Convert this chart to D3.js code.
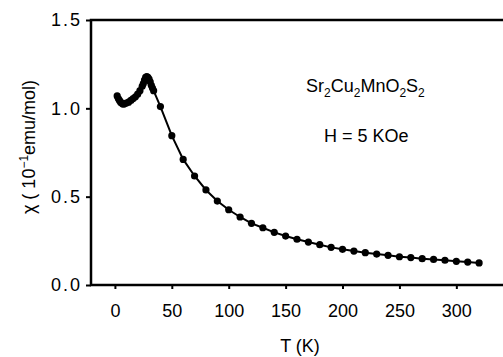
<!DOCTYPE html>
<html lang="en">
<head>
  <meta charset="UTF-8">
  <title>Sr2Cu2MnO2S2 susceptibility</title>
  <style>
    body {
      margin: 0;
      background: #fff;
      font-family: 'Liberation Sans', Arial, sans-serif;
    }
  </style>
  <script src="https://d3js.org/d3.v7.min.js"></script>
</head>
<body>
  <div id="chart"></div>

  <script>
    // T (K)
    const temps = [2, 3, 4, 5, 6, 7, 8, 10, 12, 14, 16, 18, 20, 22, 24, 25, 26, 27, 28, 29, 30, 31, 32, 33, 34,
      40, 50, 60, 70, 80, 90, 100, 110, 120, 130, 140, 150, 160, 170, 180, 190, 200,
      210, 220, 230, 240, 250, 260, 270, 280, 290, 300, 310, 320];
    // chi (10^-1 emu/mol)
    const chi = [1.07, 1.055, 1.045, 1.035, 1.03, 1.025, 1.025, 1.03, 1.035, 1.045, 1.055, 1.065, 1.08, 1.10, 1.125, 1.14, 1.16, 1.175, 1.18, 1.175, 1.165, 1.15, 1.13, 1.115, 1.10,
      1.01, 0.845, 0.711, 0.617, 0.538, 0.475, 0.426, 0.385, 0.349, 0.324, 0.298, 0.277, 0.259, 0.243, 0.228, 0.213, 0.202,
      0.192, 0.183, 0.175, 0.168, 0.160, 0.155, 0.149, 0.145, 0.140, 0.134, 0.130, 0.125];
    const xTicks = [0, 50, 100, 150, 200, 250, 300];
    const yTicks = [0.0, 0.5, 1.0, 1.5];

    const data = temps.map((t, i) => ({ t: t, v: chi[i] }));

    const width = 503;
    const height = 357;
    const mLeft = 91, mTop = 20, mBottom = 285;

    const svg = d3.select("#chart")
      .append("svg")
      .attr("width", width)
      .attr("height", height);

    const x = d3.scaleLinear().domain([-21, 341]).range([mLeft, width]);
    const y = d3.scaleLinear().domain([0, 1.5]).range([mBottom, mTop]);

    // frame: left, bottom, top (right side is cut off)
    svg.append("path")
      .attr("d", `M${width},${mTop}H${mLeft}V${mBottom}H${width}`)
      .attr("fill", "none")
      .attr("stroke", "#000")
      .attr("stroke-width", 2.5);

    // y axis
    const yAxis = svg.append("g")
      .attr("transform", `translate(${mLeft},0)`)
      .call(d3.axisLeft(y).tickValues(yTicks).tickFormat(d3.format(".1f")).tickSize(5).tickPadding(4));
    yAxis.select(".domain").remove();
    yAxis.selectAll(".tick text").style("letter-spacing", "2px");

    // x axis
    const xAxis = svg.append("g")
      .attr("transform", `translate(0,${mBottom})`)
      .call(d3.axisBottom(x).tickValues(xTicks).tickSize(4).tickPadding(15));
    xAxis.select(".domain").remove();

    svg.selectAll(".tick line").attr("stroke", "#000").attr("stroke-width", 2);
    svg.selectAll(".tick text")
      .style("font-family", "'Liberation Sans', Arial, sans-serif")
      .style("font-size", "18px")
      .attr("fill", "#000");

    // line + markers
    const line = d3.line().x(d => x(d.t)).y(d => y(d.v));
    svg.append("path")
      .datum(data)
      .attr("d", line)
      .attr("fill", "none")
      .attr("stroke", "#000")
      .attr("stroke-width", 2);

    svg.selectAll("circle")
      .data(data)
      .join("circle")
      .attr("cx", d => x(d.t))
      .attr("cy", d => y(d.v))
      .attr("r", 3.6)
      .attr("fill", "#000");

    // axis titles
    svg.append("text")
      .attr("x", 300)
      .attr("y", 352)
      .attr("text-anchor", "middle")
      .style("font-size", "18px")
      .text("T (K)");

    const yt = svg.append("text")
      .attr("transform", "translate(35,147) rotate(-90)")
      .attr("text-anchor", "middle")
      .style("font-size", "18px");
    yt.append("tspan").text("\u03c7 ( 10");
    yt.append("tspan").attr("dy", -7).style("font-size", "12px").text("\u22121");
    yt.append("tspan").attr("dy", 7).text("emu/mol)");

    // compound name with subscripts
    const formula = [["Sr", "2"], ["Cu", "2"], ["MnO", "2"], ["S", "2"]];
    const ft = svg.append("text")
      .attr("x", 306)
      .attr("y", 92)
      .style("font-size", "18px");
    formula.forEach(([s, sub], i) => {
      ft.append("tspan").attr("dy", i === 0 ? 0 : -5).text(s);
      ft.append("tspan").attr("dy", 5).style("font-size", "12px").text(sub);
    });

    svg.append("text")
      .attr("x", 324)
      .attr("y", 142)
      .style("font-size", "18px")
      .text("H = 5 KOe");
  </script>
</body>
</html>
